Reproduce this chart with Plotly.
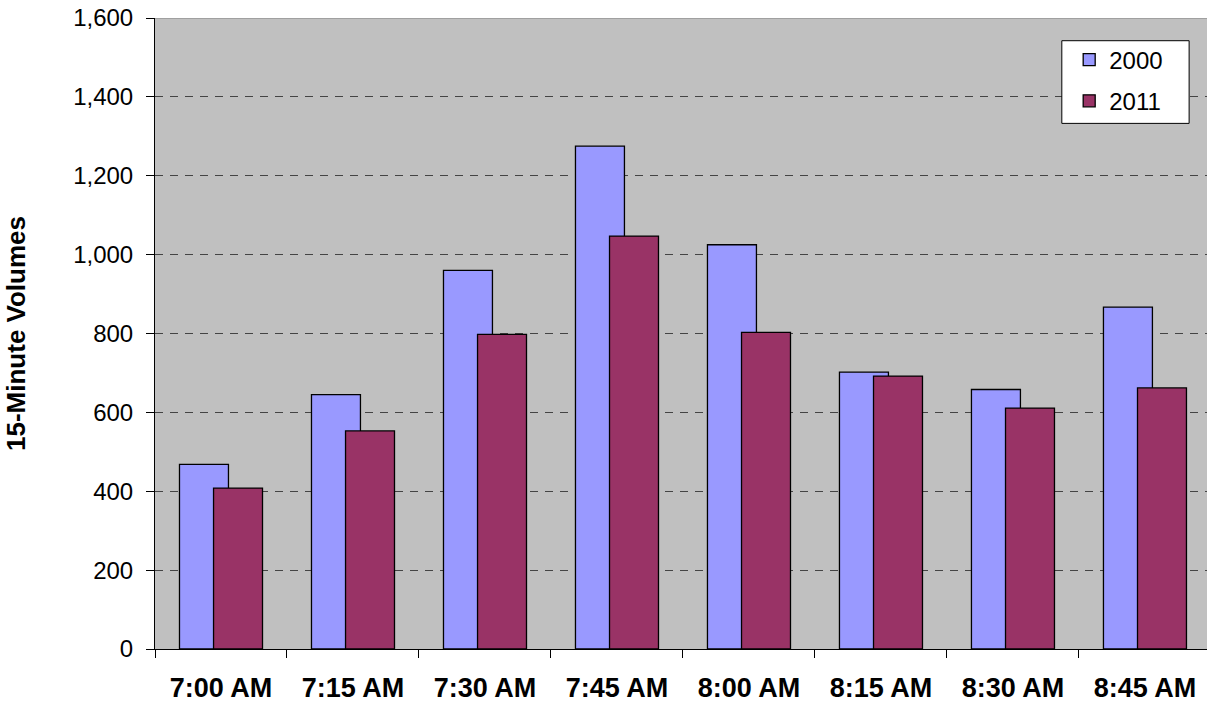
import plotly.graph_objects as go

times = ['7:00 AM', '7:15 AM', '7:30 AM', '7:45 AM', '8:00 AM', '8:15 AM', '8:30 AM', '8:45 AM']
vol_2000 = [468, 645, 960, 1275, 1025, 702, 658, 867]
vol_2011 = [408, 553, 798, 1047, 803, 692, 611, 662]

bar_w = 0.371
shift = 0.129
font_family = 'Liberation Sans, Arial, sans-serif'

fig = go.Figure(data=[
    go.Bar(name='2000', x=times, y=vol_2000, width=bar_w, offset=-shift - bar_w / 2,
           legendgroup='a',
           marker=dict(color='#9999FF', line=dict(color='black', width=1.3))),
    go.Bar(name='2011', x=times, y=vol_2011, width=bar_w, offset=shift - bar_w / 2,
           legendgroup='b',
           marker=dict(color='#993366', line=dict(color='black', width=1.3))),
])

fig.update_layout(
    width=1207, height=704, barmode='overlay',
    margin=dict(l=155, r=0, t=18, b=55),
    paper_bgcolor='white', plot_bgcolor='#C0C0C0',
    font=dict(family=font_family, color='black', size=23),
    showlegend=True,
    legend=dict(x=0.869, y=0.969, xanchor='left', yanchor='top', bgcolor='rgba(0,0,0,0)',
                borderwidth=0, font=dict(size=24), itemwidth=30, tracegroupgap=7),
    xaxis=dict(range=[-0.5, 7.47], tickson='boundaries', ticks='outside', ticklen=8,
               tickcolor='black', showline=True, linecolor='black', linewidth=1,
               showgrid=False, tickfont=dict(size=27, family=font_family, weight='bold'),
               ticklabelstandoff=15),
    yaxis=dict(range=[0, 1600], dtick=200, tickformat=',d', ticks='outside', ticklen=8,
               tickcolor='black', showline=True, linecolor='black', linewidth=1,
               showgrid=True, gridcolor='#444444', griddash='8px,7px', gridwidth=1.2,
               zeroline=False, tickfont=dict(size=24), ticklabelstandoff=8,
               title=dict(text='<b>15-Minute Volumes</b>', font=dict(size=26), standoff=40)),
    shapes=[
        dict(type='line', xref='paper', yref='y', x0=0, x1=1, y0=1600, y1=1600,
             line=dict(color='#808080', width=1), layer='above'),
        # legend box
        dict(type='rect', xref='paper', yref='paper', x0=0.862, x1=0.983, y0=0.833, y1=0.964,
             fillcolor='white', line=dict(color='black', width=1), layer='above'),
    ],
)

# drop the page's default body margin so the figure sits at the window's corner
fig.write_html("out.html", config={'displayModeBar': False},
               post_script="document.body.style.margin='0';")
